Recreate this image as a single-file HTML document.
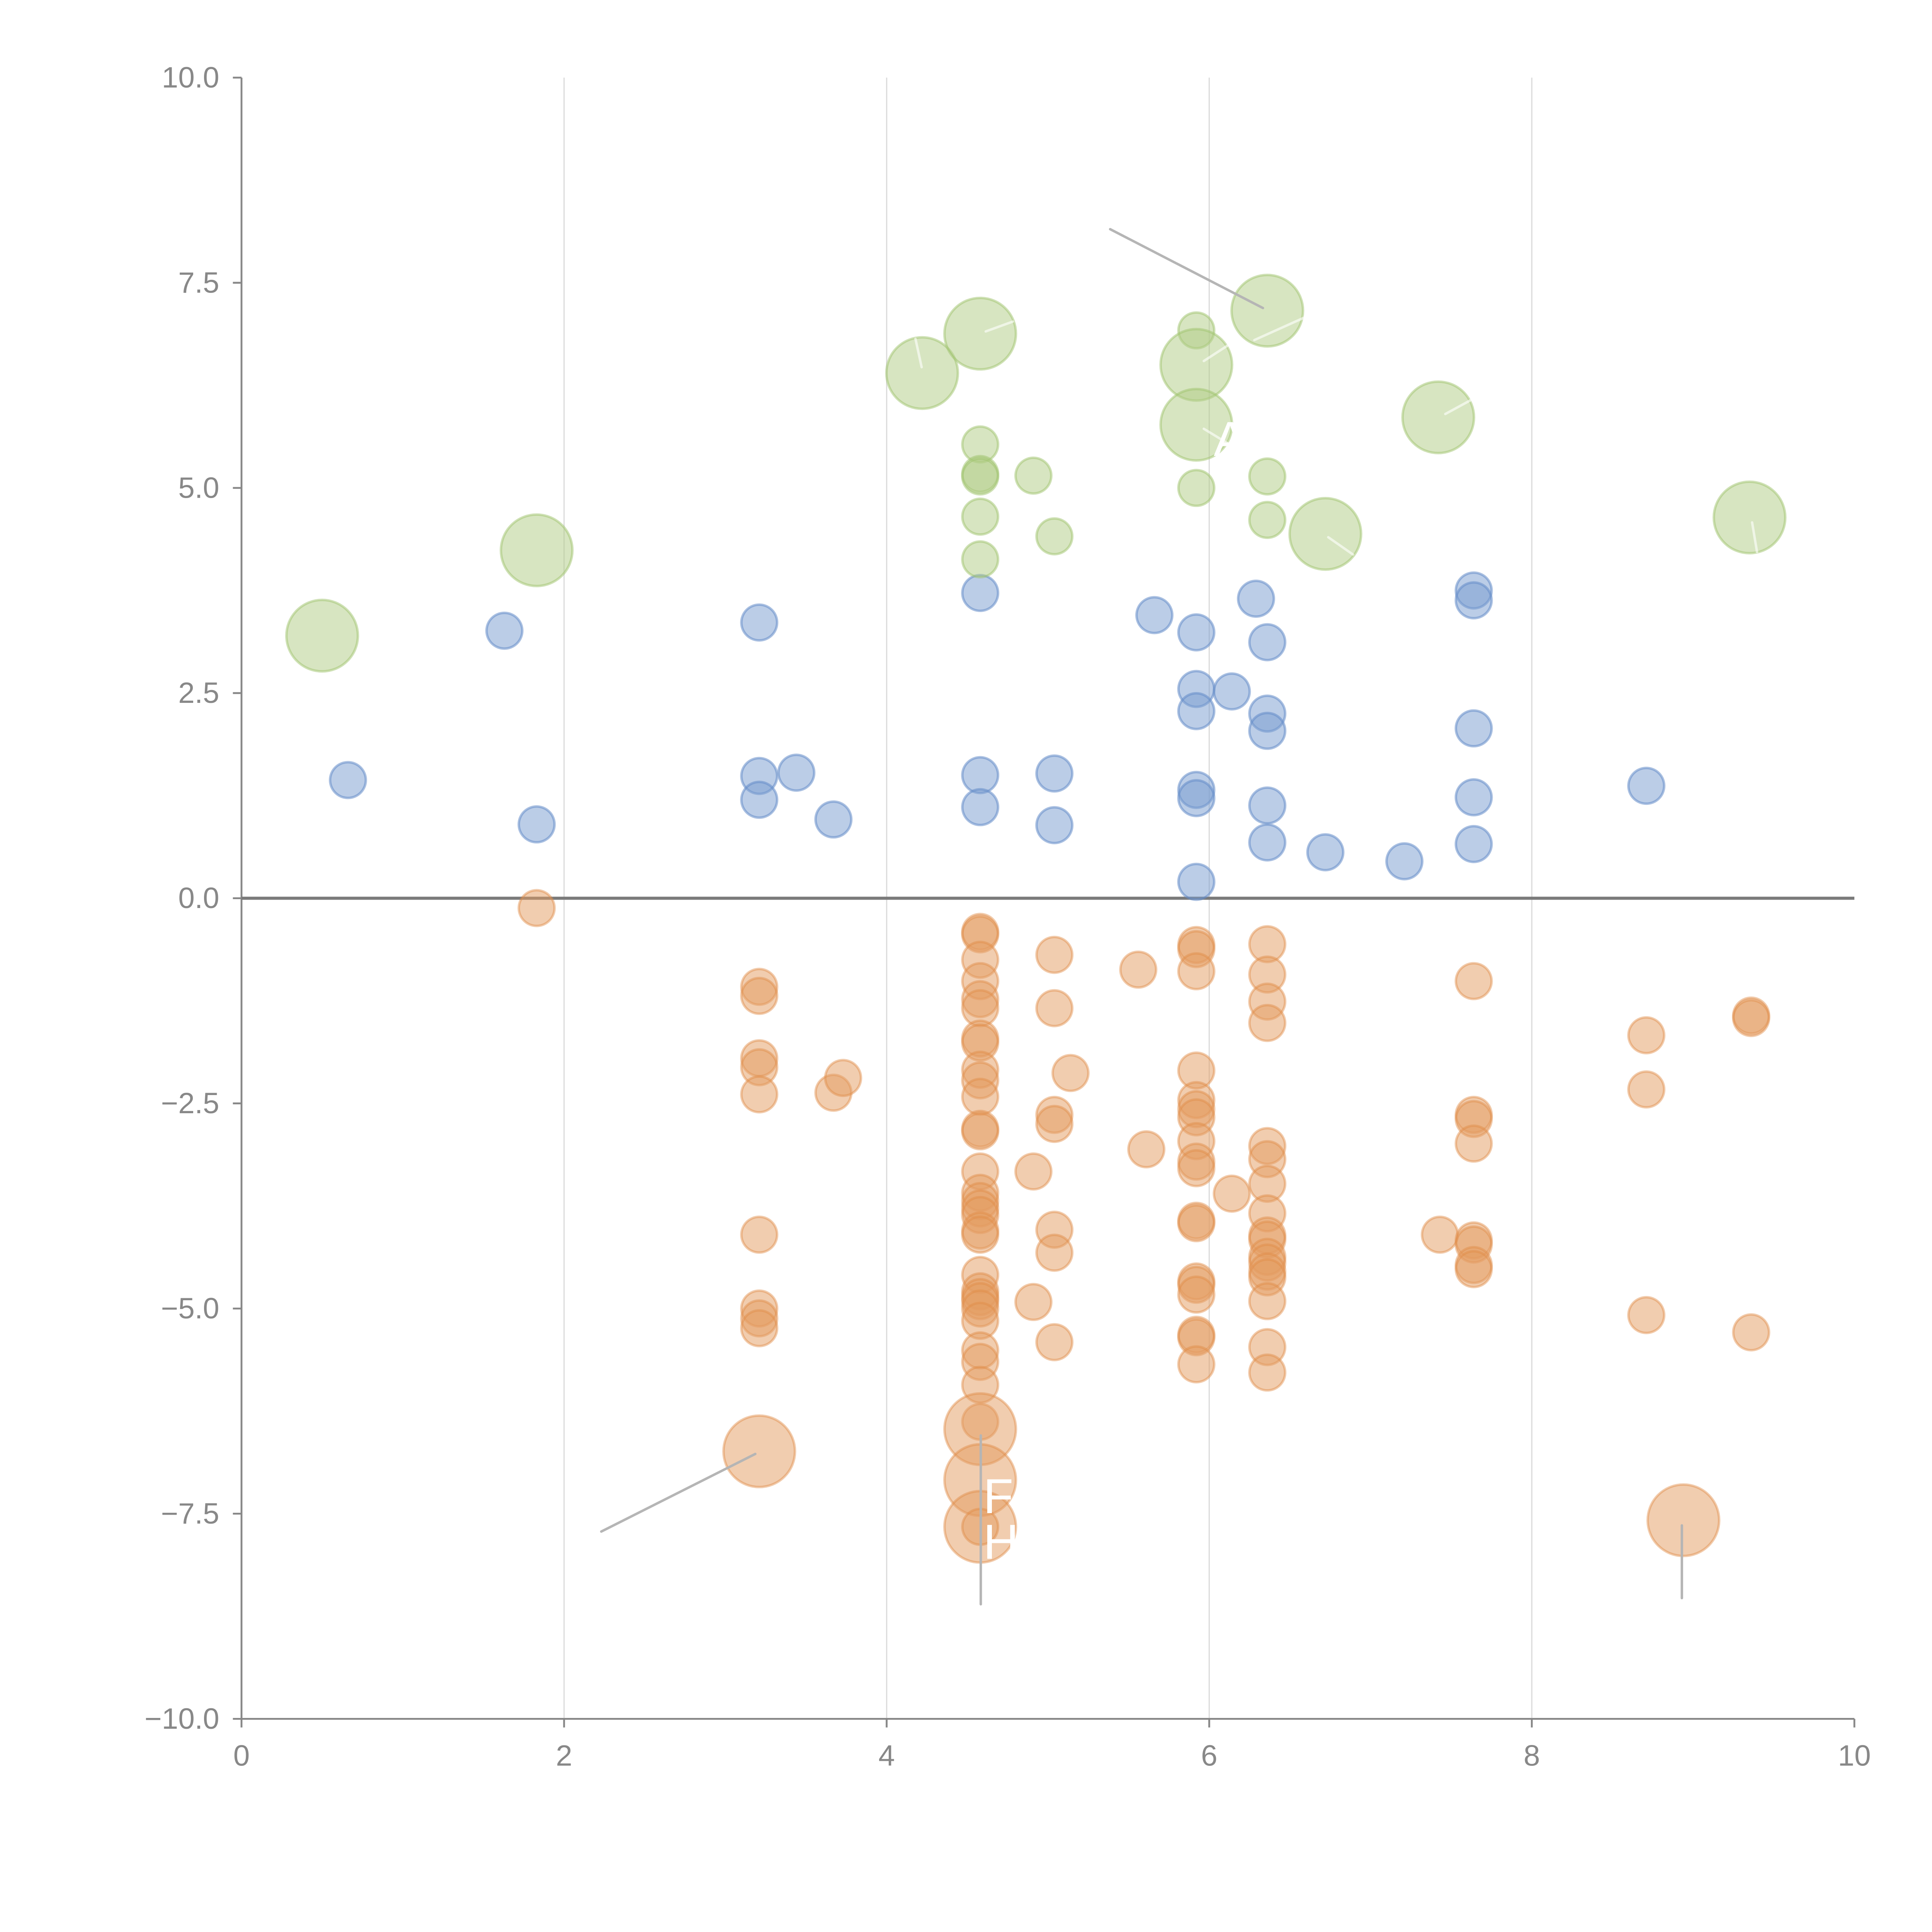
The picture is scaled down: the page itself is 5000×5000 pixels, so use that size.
<!DOCTYPE html>
<html><head><meta charset="utf-8"><style>
html,body{margin:0;padding:0;background:#fff;}
svg{display:block;}
text{font-family:"Liberation Sans",sans-serif;}
</style></head><body>
<svg id="chart" width="5000" height="5000" viewBox="0 0 1568 1568" xmlns="http://www.w3.org/2000/svg">
<g id="grid"></g>
<g id="axes"></g>
<g id="marks"></g>
<g id="annot"></g>
</svg>
<script>
const xTicks=[0,2,4,6,8,10];
const yTicks=[-10,-7.5,-5,-2.5,0,2.5,5,7.5,10];
const yTickLabels=["\u221210.0","\u22127.5","\u22125.0","\u22122.5","0.0","2.5","5.0","7.5","10.0"];
const greenX=[0.50,1.83,4.22,4.58,4.58,4.58,4.58,4.58,4.58,4.91,5.04,5.92,5.92,5.92,5.92,6.36,6.36,6.36,6.72,7.42,9.35];
const greenY=[3.20,4.24,6.40,6.88,5.53,5.17,5.14,4.65,4.13,5.15,4.41,6.92,6.50,5.77,5.00,7.16,5.14,4.61,4.44,5.86,4.64];
const greenBig=[1,1,1,1,0,0,0,0,0,0,0,0,1,1,0,1,0,0,1,1,1];
const blueX=[0.66,1.63,1.83,3.21,3.21,3.21,3.44,3.67,4.58,4.58,4.58,5.04,5.04,5.66,5.92,5.92,5.92,5.92,5.92,5.92,6.14,6.29,6.36,6.36,6.36,6.36,6.36,6.72,7.21,7.64,7.64,7.64,7.64,7.64,8.71];
const blueY=[1.44,3.26,0.90,3.36,1.49,1.20,1.53,0.96,3.72,1.50,1.11,1.52,0.89,3.45,3.24,2.55,2.28,1.32,1.22,0.20,2.52,3.65,3.12,2.25,2.04,1.13,0.68,0.56,0.45,3.75,3.63,2.07,1.23,0.66,1.37];
const orangeX=[1.83,
3.21,3.21,3.21,3.21,3.21,3.21,3.21,3.21,3.21,3.21,
3.67,3.73,
4.58,4.58,4.58,4.58,4.58,4.58,4.58,4.58,4.58,4.58,
4.58,4.58,4.58,4.58,4.58,4.58,4.58,4.58,4.58,4.58,
4.58,4.58,4.58,4.58,4.58,4.58,4.58,4.58,4.58,4.58,
4.58,4.58,4.58,4.58,
4.91,4.91,
5.04,5.04,5.04,5.04,5.04,5.04,5.04,
5.14,5.56,5.61,
5.92,5.92,5.92,5.92,5.92,5.92,5.92,5.92,5.92,5.92,
5.92,5.92,5.92,5.92,5.92,5.92,5.92,5.92,
6.14,
6.36,6.36,6.36,6.36,6.36,6.36,6.36,6.36,6.36,6.36,
6.36,6.36,6.36,6.36,6.36,6.36,6.36,
7.43,
7.64,7.64,7.64,7.64,7.64,7.64,7.64,7.64,
8.71,8.71,8.71,
8.94,
9.36,9.36,9.36];
const orangeY=[-0.12,
-1.08,-1.19,-1.95,-2.06,-2.39,-4.10,-5.00,-5.12,-5.24,-6.74,
-2.37,-2.19,
-0.41,-0.44,-0.75,-1.01,-1.23,-1.34,-1.71,-1.76,-2.09,-2.22,
-2.42,-2.81,-2.84,-3.33,-3.59,-3.69,-3.78,-3.86,-4.05,-4.10,
-4.59,-4.79,-4.86,-4.91,-5.00,-5.15,-5.51,-5.65,-5.93,-6.38,
-6.47,-7.09,-7.66,-7.66,
-3.33,-4.92,
-0.69,-1.34,-2.64,-2.75,-4.04,-4.32,-5.41,
-2.13,-0.87,-3.06,
-0.57,-0.62,-0.89,-2.10,-2.46,-2.57,-2.67,-2.96,-3.21,-3.29,
-3.93,-3.96,-4.67,-4.71,-4.83,-5.32,-5.35,-5.68,
-3.60,
-0.56,-0.93,-1.26,-1.52,-3.02,-3.18,-3.48,-3.84,-4.11,-4.16,
-4.37,-4.44,-4.55,-4.62,-4.91,-5.47,-5.78,
-4.10,
-1.01,-2.64,-2.69,-2.99,-4.17,-4.22,-4.47,-4.52,
-1.67,-2.33,-5.08,
-7.58,
-1.43,-1.46,-5.29];
const orangeBigIdx=[10,43,44,45,107];

const NS="http://www.w3.org/2000/svg";
const X0=196,X1=1505,Y0=1395,Y1=63;
function sx(v){return X0+(v-0)/(10-0)*(X1-X0);}
function sy(v){return Y0-(v+10)/20*(Y0-Y1);}
function mk(tag,attrs,parent){const e=document.createElementNS(NS,tag);for(const k in attrs)e.setAttribute(k,attrs[k]);parent.appendChild(e);return e;}
const grid=document.getElementById('grid'),axes=document.getElementById('axes'),marks=document.getElementById('marks'),annot=document.getElementById('annot');

xTicks.forEach(t=>{
  if(t>0&&t<10){const l=mk('line',{x1:sx(t),x2:sx(t),y1:Y1,y2:Y0,stroke:'#dcdcdc','stroke-width':1},grid);
  
  }
  const tk=mk('line',{x1:sx(t),x2:sx(t),y1:Y0,y2:Y0+7,stroke:'#888','stroke-width':1.5},axes);
  
  
  const tx=mk('text',{x:sx(t),y:Y0+38,'text-anchor':'middle','font-size':24,fill:'#888'},axes);
  tx.textContent=String(t);
  
  
});
yTicks.forEach((t,i)=>{
  const tk=mk('line',{x1:X0-7,x2:X0,y1:sy(t),y2:sy(t),stroke:'#888','stroke-width':1.5},axes);
  
  
  const tx=mk('text',{x:X0-18,y:sy(t)+8,'text-anchor':'end','font-size':24,fill:'#888'},axes);
  tx.textContent=yTickLabels[i];
  
  
});
let a=mk('line',{x1:X0,x2:X0,y1:Y1,y2:Y0,stroke:'#888','stroke-width':1.5},axes);


a=mk('line',{x1:X0,x2:X1,y1:Y0,y2:Y0,stroke:'#888','stroke-width':1.5},axes);


a=mk('line',{x1:X0,x2:X1,y1:sy(0),y2:sy(0),stroke:'#7a7a7a','stroke-width':2.5},axes);



function bubble(x,y,big,fill,stroke,name){
  const c=mk('circle',{cx:sx(x),cy:sy(y),r:big?29:14.5,fill:fill,stroke:stroke,'stroke-width':2},marks);
  
  
}
blueX.forEach((x,i)=>bubble(x,blueY[i],0,'rgba(120,156,208,0.5)','rgba(100,140,200,0.55)','bubble-blue'));
orangeX.forEach((x,i)=>bubble(x,orangeY[i],orangeBigIdx.includes(i),'rgba(228,156,96,0.5)','rgba(225,140,70,0.45)','bubble-orange'));
greenX.forEach((x,i)=>bubble(x,greenY[i],greenBig[i],'rgba(176,204,132,0.5)','rgba(160,195,110,0.5)','bubble-green'));

function ln(x1,y1,x2,y2,col,w,name){const l=mk('line',{x1:x1,y1:y1,x2:x2,y2:y2,stroke:col,'stroke-width':w,'stroke-linecap':'round'},annot);

}
ln(901,186,1025,250,'#b5b5b5',2,'annotation-leader');
ln(488,1243,613,1180,'#b5b5b5',2,'annotation-leader');
ln(796,1165,796,1302,'#b5b5b5',2,'annotation-leader');
ln(1365,1238,1365,1297,'#b5b5b5',2,'annotation-leader');
ln(748,298,743,275,'rgba(255,255,255,0.6)',2,'annotation-leader-white');
ln(800,269,822,261,'rgba(255,255,255,0.6)',2,'annotation-leader-white');
ln(977,293,997,280,'rgba(255,255,255,0.6)',2,'annotation-leader-white');
ln(977,348,1000,362,'rgba(255,255,255,0.6)',2,'annotation-leader-white');
ln(1018,276,1058,258,'rgba(255,255,255,0.6)',2,'annotation-leader-white');
ln(1173,336,1195,324,'rgba(255,255,255,0.6)',2,'annotation-leader-white');
ln(1078,436,1098,450,'rgba(255,255,255,0.6)',2,'annotation-leader-white');
ln(1422,424,1426,448,'rgba(255,255,255,0.6)',2,'annotation-leader-white');
function lab(x,y,t,name){const e=mk('text',{x:x,y:y,'font-size':40,fill:'#fff'},annot);e.textContent=t;

}
lab(798,1228,'F','annotation-label-f');
lab(798,1265,'H','annotation-label-h');
lab(985,370,'A','annotation-label-a');
</script>
</body></html>
